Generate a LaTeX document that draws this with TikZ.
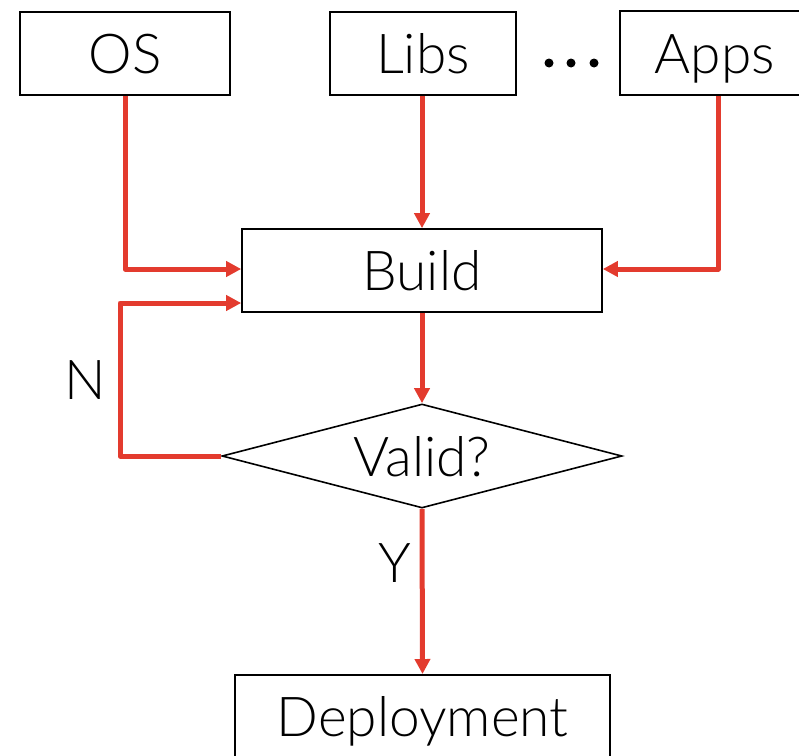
\documentclass[tikz,border=0pt]{standalone}
\usepackage{fontspec}
\setmainfont{Lato}[UprightFont={* Light}]
\usetikzlibrary{arrows.meta,shapes.geometric}
\definecolor{flowred}{HTML}{E33B2E}
\tikzset{
  box/.style={draw=black, line width=1.6pt, fill=white, inner sep=0pt,
    font=\fontsize{55}{60}\selectfont, text height=40pt, text depth=0pt},
  flow/.style={draw=flowred, line width=5pt, line join=round, -{Triangle[length=15pt,width=15pt]}},
  lbl/.style={font=\fontsize{55}{60}\selectfont, inner sep=0pt},
  dot/.style={circle, fill=black, inner sep=0pt, minimum size=9pt}
}
\begin{document}
\begin{tikzpicture}[x=1pt,y=-1pt]
\useasboundingbox (0,0) rectangle (799,755);
% source boxes
\node[box, minimum width=210pt, minimum height=83pt] (os) at (125,53.5) {OS};
\node[box, minimum width=186pt, minimum height=83pt] (libs) at (423,53.5) {Libs};
\node[box, minimum width=190pt, minimum height=84pt, anchor=west] (apps) at (619,53) {Apps};
\node[dot] (d1) at (549,63) {};
\node[dot] (d2) at (571,63) {};
\node[dot] (d3) at (594,63) {};
% build and decision
\node[box, minimum width=360pt, minimum height=83pt] (build) at (422,270.5) {Build};
\node[box, diamond, aspect=3.85, minimum width=400pt, minimum height=104pt] (valid) at (422,456) {Valid?};
\node[box, minimum width=375pt, minimum height=90pt, anchor=north] (deploy) at (422.5,674) {};
\node[lbl, anchor=base] (deptext) at (422.5,736) {Deployment};
% connectors
\coordinate (osc) at (125,269);
\coordinate (appc) at (718,269);
\coordinate (loopb) at (120,456);
\coordinate (loopt) at (120,303);
\draw[flow] (os.south) |- (build.west |- osc);
\draw[flow] (libs.south -| build.north) -- (build.north);
\draw[flow] (apps.south -| appc) |- (build.east |- appc);
\draw[flow] (build.south) -- (valid.north);
\draw[flow] (valid.west) -- (loopb) -- (loopt) -- (build.west |- loopt);
\draw[flow] (valid.south) -- (deploy.north);
% branch labels
\node[lbl] (nlbl) at (85,380) {N};
\node[lbl] (ylbl) at (395,563) {Y};
\end{tikzpicture}
\end{document}
